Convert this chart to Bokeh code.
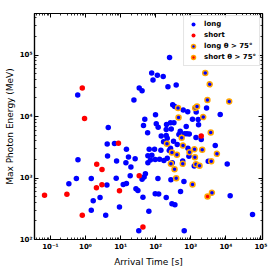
from bokeh.plotting import figure
from bokeh.models import Range1d, LogAxis, FixedTicker, CustomJSTickFormatter, Legend, LegendItem
from bokeh.embed import file_html
from bokeh.resources import INLINE

# ---- data ----
long_time = [0.60, 24, 4.45, 249, 77, 112, 164, 84, 34, 41,
             224, 385, 306, 349, 610, 820, 1430, 2820, 6920, 99,
             1120, 1630, 49, 45, 104, 118, 204, 265, 332, 200,
             278, 743, 1670, 59, 144, 665, 778, 906, 501, 460,
             200, 214, 4.16, 6.7, 14.7, 0.61, 4.25, 7.7, 16.8, 26,
             14.2, 19.7, 18.8, 7.5, 1.46, 0.55, 0.336, 4.08, 11.9, 14.7,
             2.6, 1.66, 9.3, 1.46, 3.77, 27.4, 31.2, 43.4, 97, 122,
             200, 291, 354, 64, 33, 652, 57700, 13300, 512, 639,
             591, 272, 116, 51, 47, 41, 60, 78, 71, 60,
             97, 129, 172, 214, 297, 65.5, 93, 141, 244, 265,
             168, 323, 412, 1990, 1410, 4990, 831, 888, 3150, 1260, 10960]
long_energy = [22400, 18600, 6610, 91400, 51200, 47000, 44900, 39300, 29200, 26300,
               30400, 32600, 15500, 14500, 12800, 11900, 11800, 13800, 10800, 10700,
               9010, 8910, 9010, 7120, 7590, 6680, 7390, 7880, 7880, 6130,
               6290, 6860, 7310, 5420, 4810, 5220, 5220, 5180, 5750, 5080,
               4900, 4430, 3560, 3630, 2940, 1980, 2280, 1890, 2190, 2060,
               1770, 1510, 1090, 989, 982, 982, 808, 770, 784, 814,
               482, 427, 338, 300, 248, 670, 627, 488, 556, 550,
               482, 381, 367, 288, 139, 139, 255, 514, 604, 878,
               1890, 935, 982, 1170, 1040, 957, 2290, 2350, 1970, 1770,
               2000, 2020, 1920, 2100, 1770, 2940, 2940, 2830, 2790, 3050,
               3870, 3960, 3500, 4220, 4540, 3370, 3050, 2260, 1870, 1560, 1690]

short_time = [0.81, 0.94, 8.7, 2.09, 2.96, 2.94, 2.05, 9.3, 0.068, 0.295, 0.81, 34, 43.4, 1990]
short_energy = [29100, 9250, 3660, 1680, 1380, 776, 693, 620, 524, 546, 249, 1090, 159, 4810]

long_hi_time = [2590, 3475, 2990, 12500, 434, 1340, 1510, 449, 2270, 3710,
                553, 210, 602, 291, 404, 272, 591, 345, 385, 1280,
                923, 2125, 5575, 1316, 3840, 1406, 1780, 1124, 4020]
long_hi_energy = [51000, 33300, 18600, 17600, 13700, 13700, 14600, 9600, 9780, 5480,
                  4510, 3590, 3370, 2590, 2380, 1700, 1700, 1390, 993, 2940,
                  2620, 2870, 2470, 2180, 1870, 1680, 1580, 784, 575]

short_hi_time = [3010]
short_hi_energy = [501]

x_major = [1e-1, 1e0, 1e1, 1e2, 1e3, 1e4, 1e5]
y_major = [1e2, 1e3, 1e4, 1e5]
x_minor = [m * 10.0 ** k for k in range(-2, 5) for m in range(2, 10)]
y_minor = [m * 10.0 ** k for k in range(2, 6) for m in range(2, 10)]

FONT = "DejaVu Sans"

p = figure(width=269, height=269, x_axis_type="log", y_axis_type="log",
           x_range=Range1d(0.0352, 1.11e5), y_range=Range1d(100, 4.73e5),
           output_backend="svg", toolbar_location=None,
           min_border_left=34, min_border_right=7, min_border_top=13, min_border_bottom=30)
p.grid.visible = False
p.outline_line_color = "black"
p.outline_line_width = 1.2
p.background_fill_color = "white"
p.border_fill_color = "white"

fmt_code = """
const sup = {'-':'\u207b','0':'\u2070','1':'\u00b9','2':'\u00b2','3':'\u00b3','4':'\u2074','5':'\u2075','6':'\u2076','7':'\u2077','8':'\u2078','9':'\u2079'};
const e = Math.round(Math.log10(tick));
return '10' + String(e).split('').map(c => sup[c]).join('');
"""

def style_axis(ax, ticks, minor, show_labels=True):
    ax.ticker = FixedTicker(ticks=ticks, minor_ticks=minor)
    ax.major_tick_in = 4
    ax.major_tick_out = 0
    ax.minor_tick_in = 2
    ax.minor_tick_out = 0
    ax.axis_line_color = "black"
    ax.major_tick_line_color = "black"
    ax.minor_tick_line_color = "black"
    ax.axis_line_width = 1.2
    ax.major_tick_line_width = 1
    ax.minor_tick_line_width = 0.8
    ax.major_label_text_font = FONT
    ax.major_label_text_font_style = "bold"
    ax.major_label_text_color = "black"
    ax.major_label_text_font_size = "7px"
    if show_labels:
        ax.formatter = CustomJSTickFormatter(code=fmt_code)
        ax.major_label_standoff = 3
    else:
        ax.formatter = CustomJSTickFormatter(code="return '';")
        ax.major_label_standoff = 0

style_axis(p.xaxis[0], x_major, x_minor)
style_axis(p.yaxis[0], y_major, y_minor)
p.xaxis.axis_label = "Arrival Time [s]"
p.yaxis.axis_label = "Max Photon Energy (MeV)"
for ax in (p.xaxis[0], p.yaxis[0]):
    ax.axis_label_text_font = FONT
    ax.axis_label_text_font_size = "9px"
    ax.axis_label_text_font_style = "normal"
    ax.axis_label_text_color = "black"
    ax.axis_label_standoff = 3
p.yaxis[0].major_label_standoff = 2
p.yaxis[0].axis_label_standoff = 2

top_ax = LogAxis()
style_axis(top_ax, x_major, x_minor, show_labels=False)
p.add_layout(top_ax, "above")
right_ax = LogAxis()
style_axis(right_ax, y_major, y_minor, show_labels=False)
p.add_layout(right_ax, "right")

r_long = p.scatter(long_time, long_energy, size=5.5, fill_color="#0000ff", line_color=None)
r_short = p.scatter(short_time, short_energy, size=5.5, fill_color="#ff0000", line_color=None)
r_long_hi = p.scatter(long_hi_time, long_hi_energy, size=5, fill_color="#0000ff",
                      line_color="#ffa500", line_width=1.5)
r_short_hi = p.scatter(short_hi_time, short_hi_energy, size=5, fill_color="#ff0000",
                       line_color="#ffa500", line_width=1.5)

legend = Legend(items=[
    LegendItem(label="long", renderers=[r_long]),
    LegendItem(label="short", renderers=[r_short]),
    LegendItem(label="long \u03b8 > 75\u00b0", renderers=[r_long_hi]),
    LegendItem(label="short \u03b8 > 75\u00b0", renderers=[r_short_hi]),
], location="top_right")
legend.label_text_font = FONT
legend.label_text_font_style = "bold"
legend.label_text_font_size = "7px"
legend.label_text_color = "black"
legend.border_line_color = "#cccccc"
legend.border_line_width = 1
legend.background_fill_alpha = 0.85
legend.padding = 3
legend.spacing = 1
legend.margin = 2
legend.glyph_width = 12
legend.glyph_height = 10
legend.label_height = 10
legend.label_standoff = 5
p.add_layout(legend)

open("out.html", "w").write(file_html(p, INLINE))
